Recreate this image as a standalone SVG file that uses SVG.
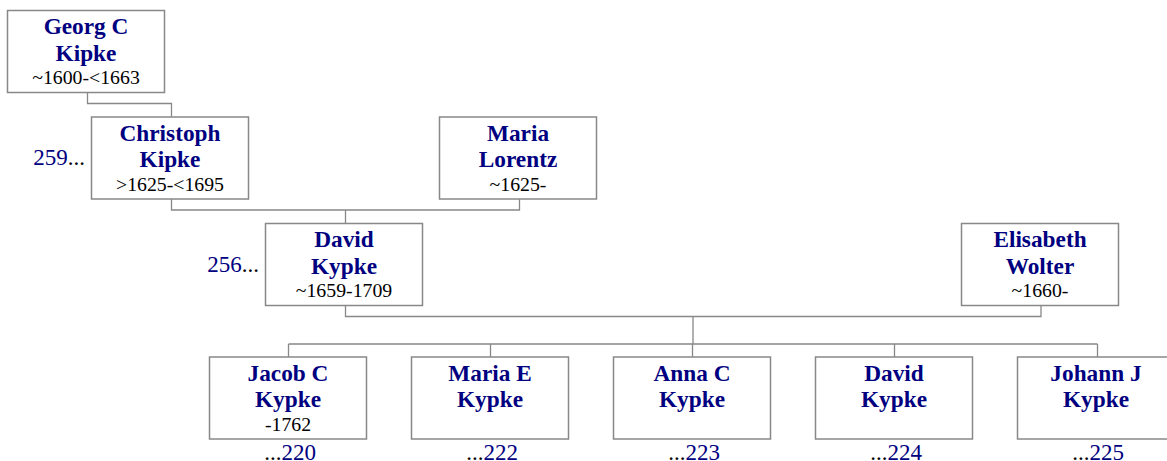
<svg xmlns="http://www.w3.org/2000/svg" width="1167" height="461" viewBox="0 0 1167 461">
<style>
.box{fill:#fff;stroke:#888;stroke-width:1.5}
.ln{fill:none;stroke:#888;stroke-width:1.3}
.nm{font-family:'Liberation Serif','Times New Roman',serif;font-weight:bold;font-size:23.3px;fill:#000080;text-anchor:middle}
.dt{font-family:'Liberation Serif','Times New Roman',serif;font-size:19.8px;fill:#000;text-anchor:middle}
.ref{font-family:'Liberation Serif','Times New Roman',serif;font-size:23px;fill:#000}
.n{fill:#000080}
</style>
<rect width="1167" height="461" fill="#fff"/>
<g id="connectors">
<path class="ln" d="M87.5 92.5V103.5H171.5V117"/>
<path class="ln" d="M171.5 199V210H519.5V199M345.5 210V223.5"/>
<path class="ln" d="M345.5 305.5V316.5H1041V305.5M693 316.5V344M288.5 344H1097.5M288.5 344V357M490.5 344V357M692.5 344V357M894.5 344V357M1097.5 344V357"/>
</g>
<g id="georg">
<rect class="box" x="7.5" y="10.5" width="157" height="82"/>
<text class="nm" x="86" y="34">Georg C</text>
<text class="nm" x="86" y="60.5">Kipke</text>
<text class="dt" x="86" y="84">~1600-&lt;1663</text>
</g>
<g id="christoph">
<rect class="box" x="91.5" y="117" width="157" height="82"/>
<text class="nm" x="170" y="140.5">Christoph</text>
<text class="nm" x="170" y="167">Kipke</text>
<text class="dt" x="170" y="190.5">&gt;1625-&lt;1695</text>
<text class="ref" x="85" y="165" text-anchor="end"><tspan class="n">259</tspan>...</text>
</g>
<g id="maria-lorentz">
<rect class="box" x="439.5" y="117" width="157" height="82"/>
<text class="nm" x="518" y="140.5">Maria</text>
<text class="nm" x="518" y="167">Lorentz</text>
<text class="dt" x="518" y="190.5">~1625-</text>
</g>
<g id="david">
<rect class="box" x="265.5" y="223.5" width="157" height="82"/>
<text class="nm" x="344" y="247">David</text>
<text class="nm" x="344" y="273.5">Kypke</text>
<text class="dt" x="344" y="297">~1659-1709</text>
<text class="ref" x="259" y="271.5" text-anchor="end"><tspan class="n">256</tspan>...</text>
</g>
<g id="elisabeth">
<rect class="box" x="961.5" y="223.5" width="157" height="82"/>
<text class="nm" x="1040" y="247">Elisabeth</text>
<text class="nm" x="1040" y="273.5">Wolter</text>
<text class="dt" x="1040" y="297">~1660-</text>
</g>
<g id="jacob">
<rect class="box" x="209.5" y="357" width="157" height="82"/>
<text class="nm" x="288" y="380.5">Jacob C</text>
<text class="nm" x="288" y="407">Kypke</text>
<text class="dt" x="288" y="430.5">-1762</text>
<text class="ref" x="290" y="459.5" text-anchor="middle">...<tspan class="n">220</tspan></text>
</g>
<g id="maria-e">
<rect class="box" x="411.5" y="357" width="157" height="82"/>
<text class="nm" x="490" y="380.5">Maria E</text>
<text class="nm" x="490" y="407">Kypke</text>
<text class="ref" x="492" y="459.5" text-anchor="middle">...<tspan class="n">222</tspan></text>
</g>
<g id="anna">
<rect class="box" x="613.5" y="357" width="157" height="82"/>
<text class="nm" x="692" y="380.5">Anna C</text>
<text class="nm" x="692" y="407">Kypke</text>
<text class="ref" x="694" y="459.5" text-anchor="middle">...<tspan class="n">223</tspan></text>
</g>
<g id="david-jr">
<rect class="box" x="815.5" y="357" width="157" height="82"/>
<text class="nm" x="894" y="380.5">David</text>
<text class="nm" x="894" y="407">Kypke</text>
<text class="ref" x="896" y="459.5" text-anchor="middle">...<tspan class="n">224</tspan></text>
</g>
<g id="johann">
<rect class="box" x="1017.5" y="357" width="157" height="82"/>
<text class="nm" x="1096" y="380.5">Johann J</text>
<text class="nm" x="1096" y="407">Kypke</text>
<text class="ref" x="1098" y="459.5" text-anchor="middle">...<tspan class="n">225</tspan></text>
</g>
</svg>
